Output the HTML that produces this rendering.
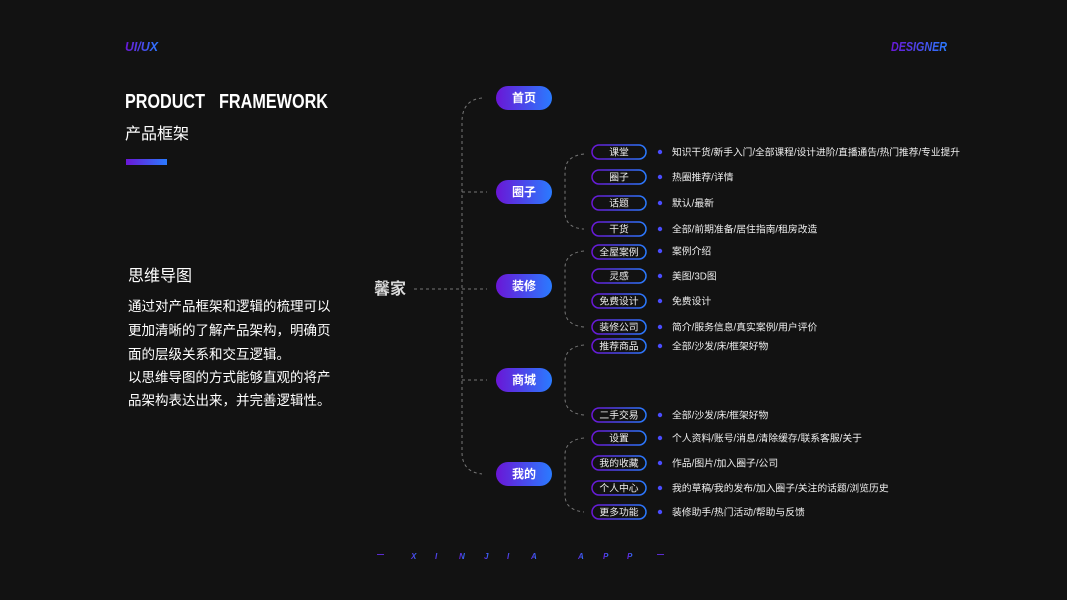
<!DOCTYPE html>
<html><head><meta charset="utf-8"><style>
html,body{margin:0;padding:0;background:#121212;}
svg{display:block}
text{font-family:"Liberation Sans","Noto Sans CJK SC",sans-serif;}
</style></head><body>
<svg width="1067" height="600" viewBox="0 0 1067 600" xmlns="http://www.w3.org/2000/svg">
<defs>
<linearGradient id="g" x1="0" y1="0" x2="1" y2="0"><stop offset="0" stop-color="#6a16d6"/><stop offset="1" stop-color="#2a7bff"/></linearGradient>
</defs>
<rect width="1067" height="600" fill="#121212"/>
<text x="125" y="51" font-size="13" font-weight="bold" font-style="italic" fill="url(#g)" textLength="33" lengthAdjust="spacingAndGlyphs">UI/UX</text>
<text x="891" y="51" font-size="13" font-weight="bold" font-style="italic" fill="url(#g)" textLength="56" lengthAdjust="spacingAndGlyphs">DESIGNER</text>
<text x="125" y="108" font-size="20" font-weight="bold" fill="#fff" textLength="80" lengthAdjust="spacingAndGlyphs">PRODUCT</text>
<text x="219" y="108" font-size="20" font-weight="bold" fill="#fff" textLength="109" lengthAdjust="spacingAndGlyphs">FRAMEWORK</text>
<text x="125" y="139" font-size="16" fill="#fff">产品框架</text>
<rect x="126" y="159" width="41" height="6" fill="url(#g)"/>
<text x="128" y="281" font-size="16" fill="#fff">思维导图</text>
<g font-size="13.5" fill="#fff">
<text x="128" y="311">通过对产品框架和逻辑的梳理可以</text>
<text x="128" y="335">更加清晰的了解产品架构，明确页</text>
<text x="128" y="359">面的层级关系和交互逻辑。</text>
<text x="128" y="382">以思维导图的方式能够直观的将产</text>
<text x="128" y="405">品架构表达出来，并完善逻辑性。</text>
</g>
<text x="374" y="294" font-size="16" font-weight="bold" fill="#d8d8d8">馨家</text>
<g fill="none" stroke="#777" stroke-width="1" stroke-dasharray="3,3">
<line x1="414" y1="289" x2="487" y2="289"/>
<path d="M482 98 Q462 100 462 122 L462 452 Q462 472 482 474"/>
<line x1="462" y1="192" x2="487" y2="192"/>
<line x1="462" y1="380" x2="487" y2="380"/>
<path d="M584 154 Q565 156 565 172 L565 212 Q565 228 584 229"/>
<path d="M584 251 Q565 253 565 268 L565 310 Q565 325 584 327"/>
<path d="M584 345 Q565 347 565 362 L565 398 Q565 413 584 415"/>
<path d="M584 438 Q565 440 565 455 L565 495 Q565 510 584 512"/>
</g>
<g font-size="12" font-weight="bold" fill="#fff" text-anchor="middle">
<rect x="496" y="86" width="56" height="24" rx="12" fill="url(#g)"/><text x="524" y="102">首页</text>
<rect x="496" y="180" width="56" height="24" rx="12" fill="url(#g)"/><text x="524" y="196">圈子</text>
<rect x="496" y="274" width="56" height="24" rx="12" fill="url(#g)"/><text x="524" y="290">装修</text>
<rect x="496" y="368" width="56" height="24" rx="12" fill="url(#g)"/><text x="524" y="384">商城</text>
<rect x="496" y="462" width="56" height="24" rx="12" fill="url(#g)"/><text x="524" y="478">我的</text>
</g>
<g font-size="9.8" fill="#eee">
<g text-anchor="middle">
<g stroke="url(#g)" stroke-width="1.5" fill="none">
<rect x="592" y="145" width="54" height="14" rx="7"/>
<rect x="592" y="170" width="54" height="14" rx="7"/>
<rect x="592" y="196" width="54" height="14" rx="7"/>
<rect x="592" y="222" width="54" height="14" rx="7"/>
<rect x="592" y="245" width="54" height="14" rx="7"/>
<rect x="592" y="269" width="54" height="14" rx="7"/>
<rect x="592" y="294" width="54" height="14" rx="7"/>
<rect x="592" y="320" width="54" height="14" rx="7"/>
<rect x="592" y="339" width="54" height="14" rx="7"/>
<rect x="592" y="408" width="54" height="14" rx="7"/>
<rect x="592" y="431" width="54" height="14" rx="7"/>
<rect x="592" y="456" width="54" height="14" rx="7"/>
<rect x="592" y="481" width="54" height="14" rx="7"/>
<rect x="592" y="505" width="54" height="14" rx="7"/>
</g>
<text x="619" y="155.5">课堂</text>
<text x="619" y="180.5">圈子</text>
<text x="619" y="206.5">话题</text>
<text x="619" y="232.5">干货</text>
<text x="619" y="255.5">全屋案例</text>
<text x="619" y="279.5">灵感</text>
<text x="619" y="304.5">免费设计</text>
<text x="619" y="330.5">装修公司</text>
<text x="619" y="349.5">推荐商品</text>
<text x="619" y="418.5">二手交易</text>
<text x="619" y="441.5">设置</text>
<text x="619" y="466.5">我的收藏</text>
<text x="619" y="491.5">个人中心</text>
<text x="619" y="515.5">更多功能</text>
</g>
<g fill="#4a4cff">
<circle cx="660" cy="152" r="2.2"/><circle cx="660" cy="177" r="2.2"/><circle cx="660" cy="203" r="2.2"/><circle cx="660" cy="229" r="2.2"/>
<circle cx="660" cy="251" r="2.2"/><circle cx="660" cy="276" r="2.2"/><circle cx="660" cy="301" r="2.2"/><circle cx="660" cy="327" r="2.2"/>
<circle cx="660" cy="346" r="2.2"/><circle cx="660" cy="415" r="2.2"/>
<circle cx="660" cy="438" r="2.2"/><circle cx="660" cy="463" r="2.2"/><circle cx="660" cy="488" r="2.2"/><circle cx="660" cy="512" r="2.2"/>
</g>
<text x="672" y="155.5" textLength="288" lengthAdjust="spacingAndGlyphs">知识干货/新手入门/全部课程/设计进阶/直播通告/热门推荐/专业提升</text>
<text x="672" y="180.5">热圈推荐/详情</text>
<text x="672" y="206.5">默认/最新</text>
<text x="672" y="232.5">全部/前期准备/居住指南/租房改造</text>
<text x="672" y="254.5">案例介绍</text>
<text x="672" y="279.5">美图/3D图</text>
<text x="672" y="304.5">免费设计</text>
<text x="672" y="330.5">简介/服务信息/真实案例/用户评价</text>
<text x="672" y="349.5">全部/沙发/床/框架好物</text>
<text x="672" y="418.5">全部/沙发/床/框架好物</text>
<text x="672" y="441.5">个人资料/账号/消息/清除缓存/联系客服/关于</text>
<text x="672" y="466.5">作品/图片/加入圈子/公司</text>
<text x="672" y="491.5">我的草稿/我的发布/加入圈子/关注的话题/浏览历史</text>
<text x="672" y="515.5">装修助手/热门活动/帮助与反馈</text>
</g>
<g font-size="8" font-weight="bold" font-style="italic" fill="url(#g)">
<rect x="377" y="554" width="7" height="1" fill="#5a2bd0"/>
<text x="411" y="559">X</text><text x="435" y="559">I</text><text x="459" y="559">N</text><text x="484" y="559">J</text><text x="507" y="559">I</text><text x="531" y="559">A</text>
<text x="578" y="559">A</text><text x="603" y="559">P</text><text x="627" y="559">P</text>
<rect x="657" y="554" width="7" height="1" fill="#5a2bd0"/>
</g>
</svg>
</body></html>
